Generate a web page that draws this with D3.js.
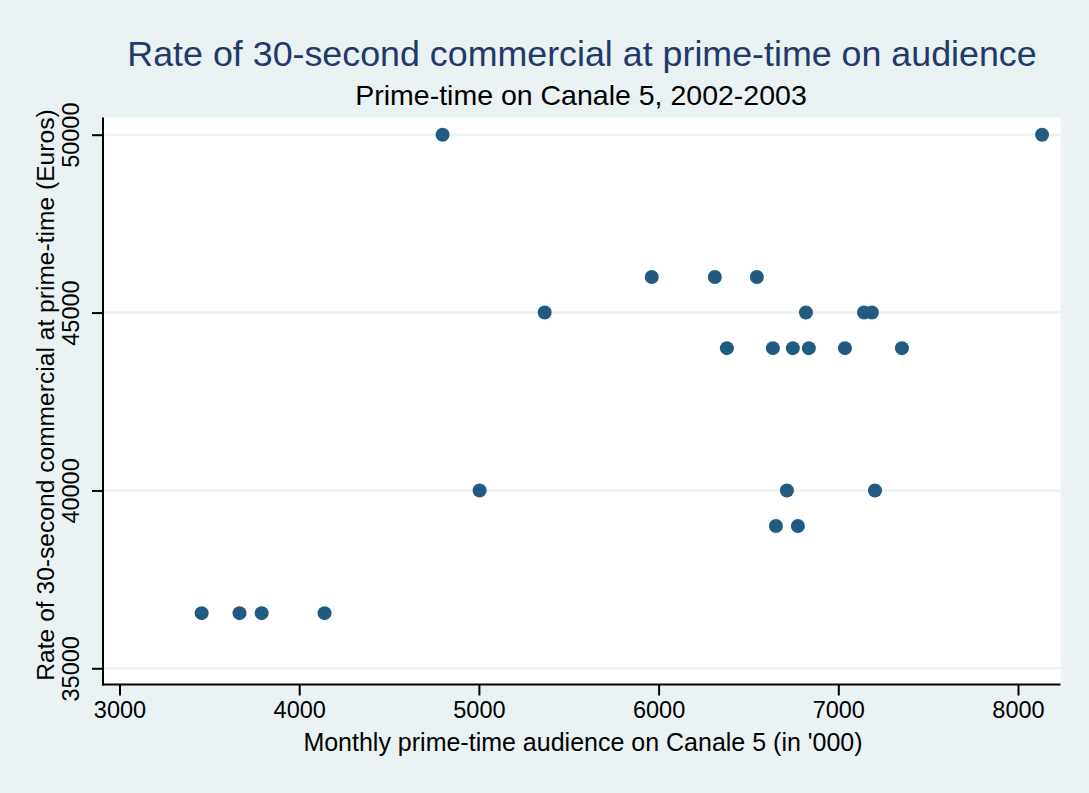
<!DOCTYPE html>
<html>
<head>
<meta charset="utf-8">
<script src="https://cdn.jsdelivr.net/npm/d3@7"></script>
<style>
  body { margin: 0; background: #eaf2f3; }
  svg { display: block; font-family: "Liberation Sans", Arial, sans-serif; }
</style>
</head>
<body>
<svg id="chart"></svg>
<script>
// audience ('000) and rate (Euros) per month
var audience = [3457, 3668, 3791, 4141, 4798, 5004, 5366, 5962, 6313, 6547,
                6380, 6636, 6747, 6836, 7037, 7354, 6820, 7143, 7187, 6714,
                7204, 6653, 6775, 8134];
var rate = [36550, 36550, 36550, 36550, 50000, 40000, 45000, 46000, 46000, 46000,
            44000, 44000, 44000, 44000, 44000, 44000, 45000, 45000, 45000, 40000,
            40000, 39000, 39000, 50000];
var xTicks = [3000, 4000, 5000, 6000, 7000, 8000];
var yTicks = [35000, 40000, 45000, 50000];

var width = 1089, height = 793;
var plot = { left: 103, right: 1060.5, top: 117.5, bottom: 684.5 };

var svg = d3.select("#chart")
    .attr("width", width)
    .attr("height", height);

svg.append("rect")
    .attr("width", width).attr("height", height)
    .attr("fill", "#eaf2f3");

var x = d3.scaleLinear()
    .domain([3000, 8000])
    .range([119.5, 1018]);

var y = d3.scaleLinear()
    .domain([35000, 50000])
    .range([668.3, 134.7]);

// plot region
svg.append("rect")
    .attr("x", plot.left).attr("y", plot.top)
    .attr("width", plot.right - plot.left)
    .attr("height", plot.bottom - plot.top)
    .attr("fill", "#ffffff");

// horizontal grid
svg.append("g")
    .selectAll("line")
    .data(yTicks)
    .enter().append("line")
    .attr("x1", plot.left).attr("x2", plot.right)
    .attr("y1", function (d) { return y(d); })
    .attr("y2", function (d) { return y(d); })
    .attr("stroke", "#eaf2f3")
    .attr("stroke-width", 2.5);

// points
svg.append("g")
    .selectAll("circle")
    .data(audience)
    .enter().append("circle")
    .attr("cx", function (d) { return x(d); })
    .attr("cy", function (d, i) { return y(rate[i]); })
    .attr("r", 7)
    .attr("fill", "#225a82");

// x axis
var xAxis = svg.append("g")
    .attr("transform", "translate(0," + plot.bottom + ")")
    .call(d3.axisBottom(x).tickValues(xTicks).tickSize(11).tickPadding(6)
        .tickFormat(d3.format("d")));
xAxis.select(".domain").remove();
xAxis.append("line")
    .attr("x1", plot.left - 1).attr("x2", plot.right)
    .attr("stroke", "#000").attr("stroke-width", 2);
xAxis.selectAll(".tick line").attr("stroke-width", 2);
xAxis.selectAll(".tick text")
    .attr("font-size", 23.5)
    .attr("fill", "#000")
    .attr("font-family", "Liberation Sans, Arial, sans-serif");

// y axis
var yAxis = svg.append("g")
    .attr("transform", "translate(" + plot.left + ",0)")
    .call(d3.axisLeft(y).tickValues(yTicks).tickSize(11).tickPadding(6)
        .tickFormat(d3.format("d")));
yAxis.select(".domain").remove();
yAxis.append("line")
    .attr("y1", plot.top).attr("y2", plot.bottom + 1)
    .attr("stroke", "#000").attr("stroke-width", 2);
yAxis.selectAll(".tick line").attr("stroke-width", 2);
yAxis.selectAll(".tick text")
    .attr("x", null).attr("dy", null)
    .attr("transform", "translate(-24,0) rotate(-90)")
    .attr("text-anchor", "middle")
    .attr("font-size", 23.5)
    .attr("fill", "#000")
    .attr("font-family", "Liberation Sans, Arial, sans-serif");

// titles
svg.append("text")
    .attr("x", 582).attr("y", 66)
    .attr("text-anchor", "middle")
    .attr("font-size", 35.8)
    .attr("fill", "#22396b")
    .text("Rate of 30-second commercial at prime-time on audience");

svg.append("text")
    .attr("x", 581).attr("y", 105)
    .attr("text-anchor", "middle")
    .attr("font-size", 28.5)
    .attr("fill", "#000")
    .text("Prime-time on Canale 5, 2002-2003");

svg.append("text")
    .attr("x", 583).attr("y", 751)
    .attr("text-anchor", "middle")
    .attr("font-size", 25)
    .attr("fill", "#000")
    .text("Monthly prime-time audience on Canale 5 (in '000)");

svg.append("text")
    .attr("transform", "translate(54,395) rotate(-90)")
    .attr("text-anchor", "middle")
    .attr("font-size", 24.6)
    .attr("fill", "#000")
    .text("Rate of 30-second commercial at prime-time (Euros)");
</script>
</body>
</html>
